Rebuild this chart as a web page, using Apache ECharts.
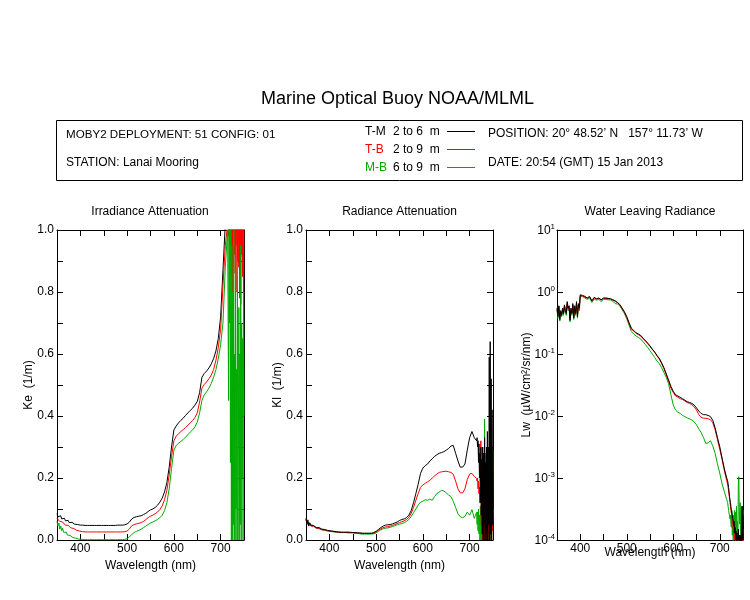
<!DOCTYPE html>
<html>
<head>
<meta charset="utf-8">
<script src="https://cdn.jsdelivr.net/npm/echarts@6/dist/echarts.min.js"></script>
<style>html,body{margin:0;padding:0;background:#fff;}#chart{width:750px;height:600px;}</style>
</head>
<body>
<div id="chart"></div>
<script>
// ---------------- DATA ----------------
const wavelength = [
  350,352,354,356,358,360,362,364,366,368,
  370,372,374,376,378,380,382,384,386,388,
  390,392,394,396,398,
  400,405,410,415,420,425,430,435,440,445,
  450,455,460,465,470,475,480,485,490,495,
  500,505,510,515,520,525,530,535,540,545,
  550,555,560,565,570,575,580,585,590,595,
  600,605,610,615,620,625,630,635,640,645,
  650,655,660,665,670,675,680,685,690,695,
  700,705,710,715,
  716,717,718,719,720,721,722,723,724,725,
  726,727,728,729,730,731,732,733,734,735,
  736,737,738,739,740,741,742,743,744,745,
  746,747,748,749,750
];

// Irradiance attenuation Ke (1/m)
const keTM = [
  0.085,0.075,0.080,0.070,0.078,0.068,0.072,0.065,0.070,0.062,
  0.066,0.058,0.063,0.056,0.060,0.054,0.057,0.052,0.055,0.051,
  0.052,0.050,0.050,0.049,0.049,
  0.048,0.048,0.047,0.047,0.047,0.047,0.047,0.047,0.047,0.047,
  0.047,0.047,0.047,0.047,0.047,0.047,0.048,0.048,0.048,0.049,
  0.052,0.058,0.068,0.073,0.075,0.077,0.078,0.082,0.086,0.092,
  0.097,0.100,0.105,0.112,0.122,0.135,0.155,0.185,0.235,0.300,
  0.355,0.368,0.378,0.386,0.393,0.402,0.410,0.418,0.425,0.435,
  0.447,0.475,0.525,0.537,0.545,0.555,0.568,0.585,0.610,0.650,
  0.720,0.870,1.020,1.150,
  1.20,1.25,1.30,1.35,1.40,1.45,1.50,1.50,1.50,1.50,
  1.50,1.50,1.50,1.50,1.50,1.50,1.50,1.50,1.50,1.50,
  1.50,1.50,1.50,1.50,1.50,1.50,1.50,1.50,1.50,1.50,
  1.50,1.50,1.50,1.50,1.50
];
const keTB = [
  0.070,0.065,0.068,0.060,0.063,0.056,0.058,0.052,0.054,0.048,
  0.050,0.045,0.047,0.042,0.043,0.039,0.040,0.036,0.037,0.034,
  0.033,0.031,0.031,0.030,0.029,
  0.028,0.027,0.026,0.026,0.026,0.026,0.026,0.026,0.026,0.026,
  0.026,0.026,0.026,0.026,0.026,0.026,0.026,0.026,0.026,0.027,
  0.029,0.036,0.046,0.050,0.052,0.054,0.056,0.060,0.066,0.072,
  0.077,0.080,0.085,0.090,0.098,0.110,0.130,0.160,0.210,0.270,
  0.320,0.335,0.343,0.350,0.356,0.363,0.370,0.378,0.385,0.395,
  0.410,0.445,0.490,0.502,0.510,0.520,0.532,0.550,0.580,0.620,
  0.680,0.820,0.950,1.020,
  1.05,0.98,1.10,0.95,1.15,0.90,1.20,0.85,1.10,0.80,
  1.25,0.88,1.10,0.92,1.30,0.86,1.05,0.95,1.20,0.80,
  1.10,0.90,1.30,0.88,1.05,0.78,1.15,0.76,1.10,0.92,
  1.20,0.85,1.05,0.76,1.10
];
const keMB = [
  0.060,0.045,0.055,0.035,0.045,0.030,0.038,0.025,0.030,0.020,
  0.025,0.016,0.020,0.012,0.015,0.010,0.012,0.008,0.009,0.006,
  0.006,0.005,0.004,0.003,0.003,
  0.002,0.002,0.001,0.001,0.001,0.001,0.001,0.001,0.001,0.001,
  0.001,0.001,0.001,0.001,0.001,0.001,0.001,0.001,0.001,0.002,
  0.004,0.010,0.018,0.024,0.028,0.031,0.035,0.040,0.045,0.050,
  0.055,0.058,0.062,0.066,0.072,0.080,0.095,0.120,0.165,0.230,
  0.290,0.305,0.312,0.318,0.324,0.332,0.340,0.348,0.355,0.365,
  0.380,0.410,0.450,0.468,0.478,0.490,0.505,0.525,0.550,0.585,
  0.630,0.700,0.880,1.000,
  1.00,0.45,1.00,0.70,1.00,0.25,1.00,0.00,0.95,0.00,
  0.80,0.05,1.00,0.00,0.60,0.00,0.90,0.10,0.55,0.00,
  0.85,0.00,0.30,0.75,0.00,0.60,0.05,0.95,0.00,0.70,
  0.20,0.65,0.00,0.80,0.40
];

// Radiance attenuation Kl (1/m)
const klTM = [
  0.070,0.050,0.065,0.045,0.055,0.048,0.050,0.044,0.047,0.042,
  0.044,0.040,0.042,0.038,0.040,0.037,0.037,0.035,0.036,0.034,
  0.034,0.032,0.033,0.031,0.031,
  0.030,0.029,0.028,0.027,0.026,0.025,0.025,0.025,0.025,0.025,
  0.024,0.024,0.023,0.023,0.022,0.022,0.022,0.022,0.022,0.024,
  0.028,0.034,0.040,0.045,0.048,0.049,0.050,0.052,0.055,0.058,
  0.063,0.066,0.068,0.072,0.080,0.095,0.120,0.150,0.180,0.215,
  0.232,0.240,0.245,0.255,0.262,0.270,0.275,0.280,0.282,0.285,
  0.290,0.295,0.303,0.305,0.280,0.255,0.235,0.235,0.245,0.290,
  0.330,0.350,0.330,0.320,
  0.33,0.30,0.32,0.25,0.31,0.20,0.28,0.12,0.30,0.08,
  0.26,0.02,0.30,0.00,0.28,0.05,0.33,0.00,0.25,0.02,
  0.30,0.00,0.35,0.00,0.30,0.05,0.59,0.00,0.64,0.02,
  0.52,0.00,0.42,0.05,0.30
];
const klTB = [
  0.065,0.055,0.060,0.050,0.052,0.045,0.047,0.042,0.044,0.040,
  0.041,0.038,0.039,0.036,0.037,0.035,0.035,0.033,0.033,0.032,
  0.032,0.031,0.031,0.030,0.030,
  0.029,0.028,0.027,0.026,0.025,0.025,0.025,0.025,0.025,0.024,
  0.024,0.023,0.023,0.022,0.021,0.021,0.021,0.021,0.021,0.022,
  0.026,0.031,0.036,0.040,0.042,0.043,0.045,0.047,0.050,0.053,
  0.056,0.059,0.062,0.066,0.073,0.086,0.105,0.128,0.150,0.170,
  0.178,0.183,0.188,0.192,0.200,0.207,0.213,0.218,0.220,0.221,
  0.222,0.220,0.218,0.212,0.190,0.165,0.152,0.152,0.165,0.195,
  0.213,0.215,0.205,0.198,
  0.19,0.20,0.165,0.19,0.15,0.17,0.12,0.20,0.32,0.05,
  0.22,0.00,0.25,0.10,0.18,0.00,0.12,0.02,0.28,0.00,
  0.12,0.05,0.20,0.00,0.15,0.02,0.25,0.00,0.20,0.05,
  0.30,0.00,0.15,0.03,0.10
];
const klMB = [
  0.068,0.058,0.062,0.052,0.055,0.048,0.050,0.044,0.046,0.041,
  0.042,0.039,0.040,0.037,0.037,0.035,0.035,0.033,0.033,0.032,
  0.031,0.030,0.030,0.029,0.029,
  0.028,0.027,0.026,0.025,0.024,0.024,0.024,0.024,0.023,0.023,
  0.023,0.022,0.021,0.020,0.019,0.019,0.019,0.019,0.019,0.020,
  0.023,0.028,0.033,0.036,0.038,0.039,0.041,0.043,0.046,0.049,
  0.051,0.053,0.056,0.060,0.066,0.076,0.088,0.100,0.113,0.122,
  0.125,0.130,0.128,0.132,0.128,0.140,0.150,0.155,0.160,0.158,
  0.152,0.145,0.140,0.125,0.105,0.085,0.075,0.072,0.076,0.090,
  0.080,0.098,0.070,0.090,
  0.05,0.09,0.03,0.10,0.02,0.08,0.00,0.11,0.00,0.10,
  0.04,0.00,0.12,0.00,0.05,0.00,0.39,0.00,0.10,0.00,
  0.15,0.02,0.25,0.00,0.20,0.00,0.30,0.05,0.51,0.00,
  0.36,0.00,0.20,0.05,0.29
];

// Water leaving radiance Lw (uW/cm^2/sr/nm)
const lwTM = [
  0.55,0.40,0.60,0.36,0.50,0.42,0.55,0.45,0.62,0.50,
  0.45,0.70,0.55,0.60,0.35,0.55,0.45,0.65,0.38,0.60,
  0.45,0.70,0.40,0.65,0.55,
  0.90,0.88,0.85,0.80,0.85,0.72,0.82,0.78,0.80,0.75,
  0.80,0.80,0.79,0.78,0.75,0.72,0.68,0.63,0.55,0.48,
  0.40,0.32,0.26,0.24,0.22,0.21,0.20,0.18,0.165,0.15,
  0.135,0.12,0.108,0.095,0.085,0.072,0.060,0.048,0.038,0.030,
  0.025,0.022,0.021,0.020,0.019,0.018,0.017,0.0165,0.016,0.015,
  0.0135,0.012,0.011,0.0105,0.0105,0.0102,0.0098,0.0085,0.0065,0.0045,
  0.0032,0.0021,0.0014,0.0010,
  0.00095,0.0009,0.0008,0.0007,0.0006,0.0005,0.00045,0.0004,0.00035,0.0003,
  0.00028,0.00025,0.00022,0.0002,0.00017,0.0002,0.00013,0.00016,0.0001,0.00014,
  0.00009,0.00013,0.0001,0.00008,0.00015,0.0001,0.00007,0.00012,0.00009,0.00012,
  0.00008,0.00015,0.00035,0.0001,0.00025
];
const lwTB = [
  0.52,0.45,0.58,0.40,0.48,0.44,0.52,0.47,0.60,0.48,
  0.47,0.66,0.53,0.58,0.38,0.52,0.47,0.62,0.40,0.57,
  0.47,0.66,0.42,0.62,0.53,
  0.88,0.86,0.83,0.79,0.83,0.72,0.80,0.77,0.79,0.74,
  0.79,0.79,0.78,0.77,0.74,0.71,0.67,0.62,0.54,0.47,
  0.39,0.31,0.25,0.235,0.215,0.205,0.195,0.177,0.162,0.147,
  0.132,0.118,0.106,0.093,0.083,0.070,0.058,0.046,0.036,0.028,
  0.024,0.021,0.020,0.019,0.0185,0.0175,0.0165,0.016,0.0152,0.014,
  0.0125,0.0105,0.0095,0.0092,0.0092,0.009,0.0087,0.0078,0.006,0.0042,
  0.0029,0.002,0.0013,0.0009,
  0.00085,0.0008,0.0007,0.00065,0.00055,0.00048,0.0004,0.00035,0.0003,0.00027,
  0.00024,0.0002,0.00018,0.00015,0.00013,0.00017,0.0001,0.00012,0.00009,0.00011,
  0.00008,0.0001,0.00012,0.00009,0.00013,0.00008,0.0001,0.00011,0.00009,0.00012,
  0.0001,0.00013,0.0002,0.00009,0.00015
];
const lwMB = [
  0.50,0.38,0.55,0.34,0.47,0.40,0.50,0.42,0.58,0.46,
  0.42,0.62,0.50,0.55,0.33,0.50,0.42,0.60,0.36,0.55,
  0.42,0.64,0.38,0.60,0.50,
  0.85,0.84,0.80,0.76,0.80,0.68,0.77,0.74,0.76,0.70,
  0.76,0.76,0.75,0.74,0.71,0.65,0.64,0.60,0.52,0.45,
  0.37,0.29,0.23,0.21,0.195,0.185,0.175,0.158,0.142,0.127,
  0.113,0.100,0.088,0.077,0.070,0.060,0.050,0.042,0.033,0.022,
  0.015,0.0125,0.0115,0.011,0.0102,0.0098,0.0093,0.009,0.0086,0.008,
  0.0072,0.0062,0.0054,0.0045,0.0036,0.0037,0.0040,0.0033,0.0025,0.0017,
  0.0012,0.0008,0.0006,0.00045,
  0.00042,0.0004,0.00035,0.0003,0.00028,0.00032,0.00022,0.00025,0.00018,0.00016,
  0.0003,0.00012,0.0002,0.00009,0.00025,0.00011,0.0003,0.00013,0.00028,0.00009,
  0.00035,0.00014,0.0002,0.00008,0.0008,0.00105,0.0003,0.00018,0.0004,0.00012,
  0.0003,0.0001,0.00035,0.00015,0.0003
];

const panelTitles = ['Irradiance Attenuation', 'Radiance Attenuation', 'Water Leaving Radiance'];
const yNames = ['Ke  (1/m)', 'Kl  (1/m)', 'Lw  (\u00B5W/cm\u00B2/sr/nm)'];
const xName = 'Wavelength (nm)';
const seriesNames = ['T-M', 'T-B', 'M-B'];
const seriesDepths = ['2 to 6  m', '2 to 9  m', '6 to 9  m'];
const seriesColors = ['#000000', '#ff0000', '#00aa00'];

// ---------------- CHART ----------------
const FONT = '"Liberation Sans", Arial, Helvetica, sans-serif';
const chart = echarts.init(document.getElementById('chart'), null, {renderer: 'canvas'});

const grids = [
  {left: 57, top: 230, width: 187, height: 310},
  {left: 306, top: 230, width: 187, height: 310},
  {left: 557, top: 230, width: 186, height: 310}
];

const axisLine = {show: true, onZero: false, lineStyle: {color: '#000', width: 1}};
const axisTick = {show: true, inside: true, length: 6, lineStyle: {color: '#000', width: 1}};
const labelStyle = {color: '#000', fontSize: 12, fontFamily: FONT};

const xAxes = [];
const yAxes = [];
for (let g = 0; g < 3; g++) {
  xAxes.push({
    gridIndex: g, type: 'value', min: 350, max: 750, interval: 50, position: 'bottom',
    axisLine, axisTick, splitLine: {show: false},
    axisLabel: Object.assign({margin: 3, formatter: v => (v % 100 === 0 ? String(v) : '')}, labelStyle),
    name: xName, nameLocation: 'middle', nameGap: g === 2 ? 7 : 20, nameMoveOverlap: false,
    nameTextStyle: {color: '#000', fontSize: 12, fontFamily: FONT}
  });
  xAxes.push({
    gridIndex: g, type: 'value', min: 350, max: 750, interval: 50, position: 'top',
    axisLine, axisTick, splitLine: {show: false}, axisLabel: {show: false}
  });
  if (g < 2) {
    yAxes.push({
      gridIndex: g, type: 'value', min: 0, max: 1, interval: 0.1, position: 'left',
      axisLine, axisTick, splitLine: {show: false},
      axisLabel: Object.assign({margin: 3, formatter: v => {
        const k = Math.round(v * 10);
        return k % 2 === 0 ? (k / 10).toFixed(1) : '';
      }}, labelStyle),
      name: yNames[g], nameLocation: 'middle', nameGap: 22, nameMoveOverlap: false,
      nameTextStyle: {color: '#000', fontSize: 12, fontFamily: FONT}
    });
    yAxes.push({
      gridIndex: g, type: 'value', min: 0, max: 1, interval: 0.1, position: 'right',
      axisLine, axisTick, splitLine: {show: false}, axisLabel: {show: false}
    });
  } else {
    yAxes.push({
      gridIndex: g, type: 'log', logBase: 10, min: 0.0001, max: 10, position: 'left',
      axisLine, axisTick, splitLine: {show: false}, minorTick: {show: false},
      axisLabel: {
        margin: 2,
        formatter: v => '{b|10}{s|' + Math.round(Math.log10(v)) + '}',
        rich: {
          b: {color: '#000', fontSize: 12, fontFamily: FONT, lineHeight: 14, verticalAlign: 'bottom'},
          s: {color: '#000', fontSize: 8, fontFamily: FONT, lineHeight: 8, verticalAlign: 'top'}
        }
      },
      name: yNames[g], nameLocation: 'middle', nameGap: 24, nameMoveOverlap: false,
      nameTextStyle: {color: '#000', fontSize: 12, fontFamily: FONT}
    });
    yAxes.push({
      gridIndex: g, type: 'log', logBase: 10, min: 0.0001, max: 10, position: 'right',
      axisLine, axisTick, splitLine: {show: false}, axisLabel: {show: false}
    });
  }
}

function pairs(arr) { return wavelength.map((w, i) => [w, arr[i]]); }
function mk(g, idx, arr) {
  return {
    type: 'line', xAxisIndex: g * 2, yAxisIndex: g * 2, data: pairs(arr),
    showSymbol: false, symbol: 'none', clip: true, silent: true, animation: false,
    lineStyle: {color: seriesColors[idx], width: 1}, itemStyle: {color: seriesColors[idx]}
  };
}
const series = [
  mk(0, 0, keTM), mk(0, 1, keTB), mk(0, 2, keMB),
  mk(1, 2, klMB), mk(1, 1, klTB), mk(1, 0, klTM),
  mk(2, 2, lwMB), mk(2, 1, lwTB), mk(2, 0, lwTM)
];

const txt = (x, y, text, opts) => Object.assign({
  type: 'text', x, y, silent: true,
  style: Object.assign({text, fill: '#000', font: '12px ' + FONT, align: 'left', verticalAlign: 'middle'}, opts || {})
});
const graphics = [
  txt(397.5, 99, 'Marine Optical Buoy NOAA/MLML', {font: '18px ' + FONT, align: 'center'}),
  {type: 'rect', silent: true, shape: {x: 56.5, y: 120.5, width: 686, height: 60},
   style: {fill: 'none', stroke: '#000', lineWidth: 1}},
  txt(66, 135, 'MOBY2 DEPLOYMENT: 51 CONFIG: 01', {font: '11.6px ' + FONT}),
  txt(66, 162.5, 'STATION: Lanai Mooring'),
  txt(488, 134, 'POSITION: 20\u00B0 48.52\u2019 N   157\u00B0 11.73\u2019 W'),
  txt(488, 162.5, 'DATE: 20:54 (GMT) 15 Jan 2013')
];
const legendY = [132, 150, 168];
for (let i = 0; i < 3; i++) {
  graphics.push(txt(365, legendY[i], seriesNames[i], {fill: seriesColors[i]}));
  graphics.push(txt(393, legendY[i], seriesDepths[i]));
  graphics.push({type: 'rect', silent: true,
    shape: {x: 447, y: legendY[i] - 1, width: 28, height: 1},
    style: {fill: seriesColors[i]}});
}
const titleX = [150, 399.5, 650];
for (let g = 0; g < 3; g++) {
  graphics.push(txt(titleX[g], 212, panelTitles[g], {align: 'center'}));
}

chart.setOption({
  backgroundColor: '#ffffff',
  animation: false,
  grid: grids,
  xAxis: xAxes,
  yAxis: yAxes,
  series,
  graphic: graphics
});
</script>
</body>
</html>
